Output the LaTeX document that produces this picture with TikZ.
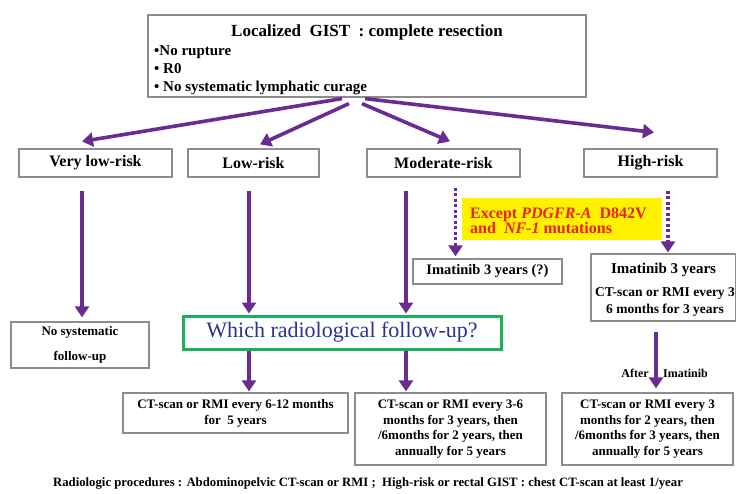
\documentclass[tikz,border=0pt]{standalone}
\usepackage{fontspec}
\setmainfont{Liberation Serif}
\usetikzlibrary{arrows.meta,calc}
\definecolor{arrowpurple}{HTML}{6A2C91}
\definecolor{boxgray}{HTML}{8C8C8C}
\definecolor{greenframe}{HTML}{1DB05A}
\definecolor{questionblue}{HTML}{2E3192}
\definecolor{alertred}{HTML}{E8201E}
\tikzset{
  x=1pt, y=-1pt,
  plainbox/.style={draw=boxgray, line width=1.2pt, fill=white, inner sep=0pt, align=center, font=\bfseries},
  bigarrow/.style={draw=arrowpurple, line width=3.6pt, -{Triangle[length=11pt,width=14pt]}},
  dotarrow/.style={draw=arrowpurple, line width=3.4pt, dash pattern=on 3pt off 2.5pt, -{Triangle[length=11pt,width=14pt]}},
  lbl/.style={inner sep=0pt, font=\bfseries},
}
\begin{document}
\begin{tikzpicture}
\useasboundingbox (0,0) rectangle (736,493);
% top box
\node[plainbox, minimum width=438pt, minimum height=82pt] (top) at (367,56) {};
\node[lbl, font=\bfseries\fontsize{17}{20}\selectfont] (title) at (367,32) {Localized\ \ GIST\ \ : complete resection};
\node[lbl, anchor=west, align=left, font=\bfseries\fontsize{15}{18}\selectfont] (bullets) at (154,70) {•No rupture\\• R0\\• No systematic lymphatic curage};
% risk boxes
\node[plainbox, minimum width=153pt, minimum height=28pt, font=\bfseries\fontsize{16}{18}\selectfont] (vlow) at (95.5,163) {Very low-risk};
\node[plainbox, minimum width=131pt, minimum height=28pt, font=\bfseries\fontsize{16}{18}\selectfont] (low) at (253.5,163) {Low-risk};
\node[plainbox, minimum width=153pt, minimum height=28pt, font=\bfseries\fontsize{16}{18}\selectfont] (mod) at (443.5,163) {Moderate-risk};
\node[plainbox, minimum width=133pt, minimum height=28pt, font=\bfseries\fontsize{16}{18}\selectfont] (high) at (650.5,163) {High-risk};
% yellow note
\node[fill=yellow, minimum width=200pt, minimum height=42pt, inner sep=0pt] (note) at (562,219) {};
\node[lbl, anchor=west, align=left, text=alertred, font=\bfseries\fontsize{16}{15}\selectfont] (notetext) at (470,221) {Except \textit{PDGFR-A}\ \ D842V\\and\ \ \textit{NF-1} mutations};
% imatinib boxes
\node[plainbox, minimum width=149pt, minimum height=25pt, font=\bfseries\fontsize{14.5}{17}\selectfont] (imq) at (487.5,271.5) {Imatinib 3 years (?)};
\node[plainbox, minimum width=145pt, minimum height=67pt] (himat) at (663.5,287.5) {};
\node[lbl, font=\bfseries\fontsize{15}{17}\selectfont] (himat1) at (663.5,270) {Imatinib 3 years};
\node[lbl, align=center, font=\bfseries\fontsize{13.5}{17}\selectfont] (himat2) at (665,302) {CT-scan or RMI every 3\\6 months for 3 years};
% no systematic follow-up
\node[plainbox, minimum width=138pt, minimum height=46pt, font=\bfseries\fontsize{13}{25}\selectfont] (nosys) at (80,345) {No systematic\\follow-up};
% green question
\node[draw=greenframe, line width=3pt, fill=white, minimum width=318pt, minimum height=33pt, inner sep=0pt, text=questionblue, font=\fontsize{22}{24}\selectfont] (green) at (342,332.5) {Which radiological follow-up?};
% follow-up boxes
\node[plainbox, minimum width=225pt, minimum height=40pt, font=\bfseries\fontsize{13}{16}\selectfont] (ct1) at (235.5,413) {CT-scan or RMI every 6-12 months\\for\ \ 5 years};
\node[plainbox, minimum width=191pt, minimum height=72pt, font=\bfseries\fontsize{13}{15.7}\selectfont] (ct2) at (450.5,429) {CT-scan or RMI every 3-6\\months for 3 years, then\\/6months for 2 years, then\\annually for 5 years};
\node[plainbox, minimum width=171pt, minimum height=72pt, font=\bfseries\fontsize{13}{15.7}\selectfont] (ct3) at (647.5,429) {CT-scan or RMI every 3\\months for 2 years, then\\/6months for 3 years, then\\annually for 5 years};
% after imatinib labels
\node[lbl, anchor=east, font=\bfseries\fontsize{12}{14}\selectfont] (after) at (649,373) {After};
\node[lbl, anchor=west, font=\bfseries\fontsize{12}{14}\selectfont] (afterimat) at (663,373) {Imatinib};
% footer
\node[lbl, font=\bfseries\fontsize{12.75}{14}\selectfont] (footer) at (368,483) {Radiologic procedures : Abdominopelvic CT-scan or RMI ;\ \ High-risk or rectal GIST : chest CT-scan at least 1/year};
% arrows from top box
\draw[bigarrow] ($(top.south)+(-25,1)$) -- ($(vlow.north)+(-13.5,-7)$);
\draw[bigarrow] ($(top.south)+(-18,6)$) -- ($(low.north)+(6.5,-4)$);
\draw[bigarrow] ($(top.south)+(-5,6)$) -- ($(mod.north)+(6.5,-7)$);
\draw[bigarrow] ($(top.south)+(-2,1)$) -- ($(high.north)+(3.5,-16)$);
% vertical arrows
\draw[bigarrow] ($(vlow.south)+(-13.5,13)$) -- ($(nosys.north)+(2,-4)$);
\draw[bigarrow] ($(low.south)+(-4.5,13)$) -- ($(green.north)+(-93,-1)$);
\draw[bigarrow] ($(mod.south)+(-37.5,13)$) -- ($(green.north)+(64,-1)$);
\draw[dotarrow] ($(mod.south)+(12,10)$) -- ($(imq.north)+(-32,-2)$);
\draw[dotarrow] ($(high.south)+(17.5,13)$) -- ($(himat.north)+(4.5,-1)$);
\draw[bigarrow] ($(green.south)+(-93,0)$) -- ($(ct1.north)+(13.5,-1)$);
\draw[bigarrow] ($(green.south)+(64,0)$) -- ($(ct2.north)+(-44.5,-1)$);
\draw[bigarrow] ($(himat.south)+(-7.5,10)$) -- ($(ct3.north)+(8.5,-4)$);
\end{tikzpicture}
\end{document}
